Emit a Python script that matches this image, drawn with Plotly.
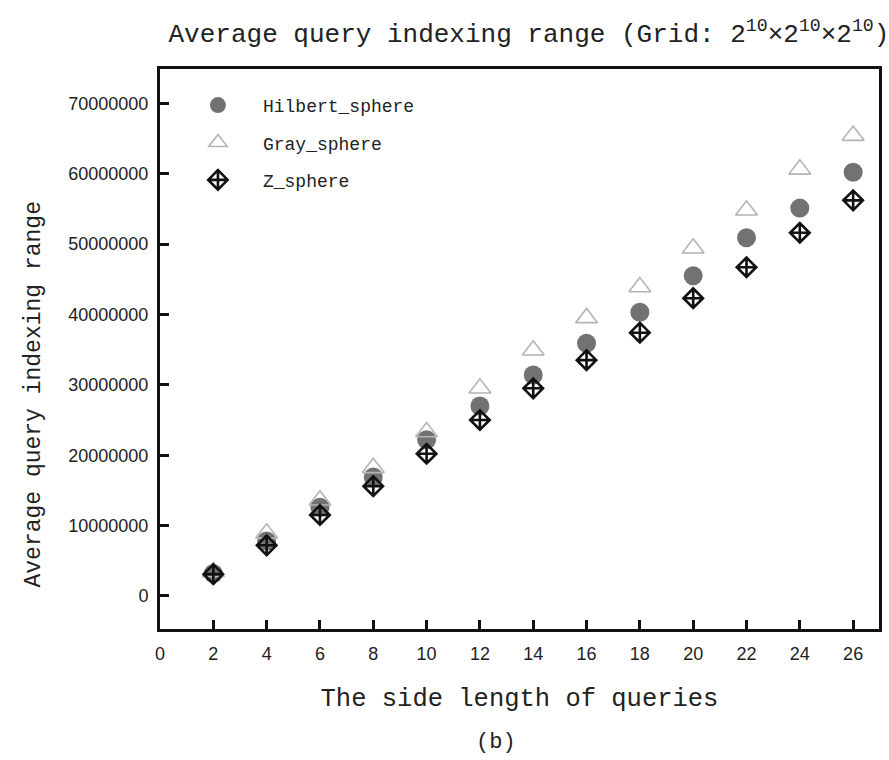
import plotly.graph_objects as go

side_length = [2, 4, 6, 8, 10, 12, 14, 16, 18, 20, 22, 24, 26]
hilbert_sphere = [3.2e6, 7.8e6, 12.6e6, 16.9e6, 22.2e6, 27.0e6, 31.4e6, 35.9e6, 40.3e6, 45.5e6, 50.9e6, 55.1e6, 60.2e6]
gray_sphere = [3.4e6, 8.9e6, 13.6e6, 18.2e6, 23.3e6, 29.5e6, 34.9e6, 39.5e6, 43.9e6, 49.4e6, 54.8e6, 60.6e6, 65.4e6]
z_sphere = [3.1e6, 7.2e6, 11.5e6, 15.6e6, 20.2e6, 25.0e6, 29.5e6, 33.5e6, 37.4e6, 42.3e6, 46.7e6, 51.6e6, 56.2e6]

x_ticks = list(range(0, 27, 2))
y_ticks = [0, 10000000, 20000000, 30000000, 40000000, 50000000, 60000000, 70000000]

mono = "Courier New, Liberation Mono, monospace"
sans = "Liberation Sans, Arial, sans-serif"

fig = go.Figure()
fig.add_trace(go.Scatter(
    x=side_length, y=hilbert_sphere, mode="markers", name="Hilbert_sphere", legendgroup="h",
    marker=dict(symbol="circle", size=19, color="#727272", line=dict(width=0)),
))
fig.add_trace(go.Scatter(
    x=side_length, y=gray_sphere, mode="markers", name="Gray_sphere", legendgroup="g",
    marker=dict(symbol="triangle-up-open", size=19, color="#b4b4b4", line=dict(width=1.6, color="#b4b4b4")),
))
fig.add_trace(go.Scatter(
    x=side_length, y=z_sphere, mode="markers", name="Z_sphere", legendgroup="z",
    marker=dict(symbol="diamond-cross-open", size=15, color="#111111", line=dict(width=2.6, color="#111111")),
))

fig.update_layout(
    width=889, height=760,
    margin=dict(l=160, r=7, t=69, b=131),
    paper_bgcolor="white", plot_bgcolor="white",
    showlegend=True,
    legend=dict(
        x=0.018, y=0.968, xanchor="left", yanchor="top",
        bgcolor="rgba(0,0,0,0)", borderwidth=0,
        font=dict(family=mono, size=18, color="#222"),
        itemsizing="trace", tracegroupgap=11, itemwidth=80,
    ),
    title=dict(
        text="Average query indexing range (Grid: 2<sup>10</sup>×2<sup>10</sup>×2<sup>10</sup>)",
        x=0.595, xref="container", xanchor="center",
        y=1 - 33 / 760, yref="container", yanchor="middle",
        font=dict(family=mono, size=26, color="#222"),
    ),
    annotations=[
        dict(
            text="(b)", xref="paper", yref="paper", x=(497 - 160) / 722, y=-(742 - 629) / 560,
            xanchor="center", yanchor="middle", showarrow=False,
            font=dict(family=mono, size=22, color="#222"),
        ),
        dict(
            text="Average query indexing range", xref="paper", yref="paper",
            x=(33 - 160) / 722, y=(629 - 395) / 560, textangle=-90,
            xanchor="center", yanchor="middle", showarrow=False,
            font=dict(family=mono, size=23, color="#222"),
        ),
    ],
)

fig.update_xaxes(
    range=[0, 26.97], tickvals=x_ticks, ticktext=[str(v) for v in x_ticks],
    showgrid=False, zeroline=False,
    showline=True, linecolor="#111", linewidth=3, mirror=True,
    ticks="inside", ticklen=9, tickwidth=2.5, tickcolor="#111",
    ticklabelstandoff=6,
    tickfont=dict(family=sans, size=18, color="#222"),
    title=dict(text="The side length of queries", font=dict(family=mono, size=25.5, color="#222"), standoff=26),
)
fig.update_yaxes(
    range=[-4.69e6, 74.86e6], tickvals=y_ticks, ticktext=[str(v) for v in y_ticks],
    showgrid=False, zeroline=False,
    showline=True, linecolor="#111", linewidth=3, mirror=True,
    ticks="inside", ticklen=9, tickwidth=2.5, tickcolor="#111",
    ticklabelstandoff=5,
    tickfont=dict(family=sans, size=18, color="#222"),
)

fig.write_html("out.html")
